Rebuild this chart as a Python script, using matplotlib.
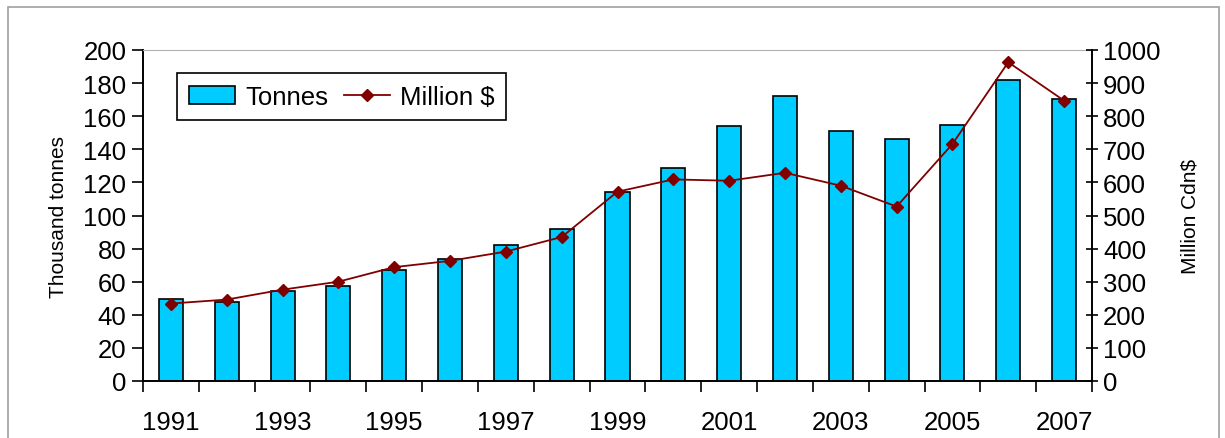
import numpy as np
import matplotlib.pyplot as plt
from matplotlib.patches import Rectangle

years = list(range(1991, 2008))
tonnes = [49.6, 47.6, 54.2, 57.3, 66.9, 73.8, 82.3, 91.9, 114.5, 128.8,
          154.0, 172.4, 151.0, 146.2, 154.8, 182.0, 170.6]
million = [234, 246, 276, 300, 344, 363, 391, 435, 572, 609,
           605, 629, 590, 527, 716, 963, 847]

plt.rcParams['font.family'] = ['Liberation Sans', 'DejaVu Sans']

fig = plt.figure(figsize=(12.25, 4.39), dpi=100)
ax = fig.add_axes([143/1225, 1 - 382/439, 949/1225, 331/439])
x = np.arange(len(years))

bars = ax.bar(x, tonnes, width=0.43, color='#00CCFF', edgecolor='black',
              linewidth=1.2, label='Tonnes', zorder=2)
ax.set_xlim(-0.5, len(years) - 0.5)
ax.set_ylim(0, 200)
ax.set_yticks(range(0, 201, 20))
ax.set_xticks(np.arange(-0.5, len(years), 1.0))
ax.set_xticklabels([])
ax.set_xticks(x[::2], minor=True)
ax.set_xticklabels([str(y) for y in years[::2]], minor=True, fontsize=18.5)
ax.tick_params(axis='x', which='major', length=8, width=1.2, direction='out')
ax.tick_params(axis='x', which='minor', length=0, pad=21)
ax.tick_params(axis='y', length=8, width=1.2, direction='out', labelsize=18.5, pad=4)
ax.set_ylabel('Thousand tonnes', fontsize=15, labelpad=11)
for s in ['left', 'bottom']:
    ax.spines[s].set_linewidth(1.4)
ax.spines['top'].set_color('#b0b0b0')
ax.spines['right'].set_visible(False)

ax2 = ax.twinx()
line, = ax2.plot(x, million, color='#800000', marker='D', markersize=6.5,
                 linewidth=1.3, label='Million $', zorder=3)
ax2.set_ylim(0, 1000)
ax2.set_yticks(range(0, 1001, 100))
ax2.tick_params(axis='y', length=8, width=1.2, direction='inout', labelsize=18.5, pad=4)
ax2.set_ylabel('Million Cdn$', fontsize=15, labelpad=14)
ax2.spines['right'].set_linewidth(1.4)
ax2.spines['top'].set_visible(False)
ax2.spines['left'].set_visible(False)
ax2.spines['bottom'].set_visible(False)

leg = ax2.legend([bars, line], ['Tonnes', 'Million $'], loc='upper left',
                 bbox_to_anchor=(0.036, 0.93), ncol=2, fontsize=18.5, frameon=True,
                 fancybox=False, edgecolor='black', framealpha=1,
                 handlelength=1.8, handletextpad=0.4, columnspacing=0.6,
                 borderpad=0.45, borderaxespad=0)
leg.get_frame().set_linewidth(1.2)

fig.patches.append(Rectangle((8/1225, -0.1), 1211/1225, 1.1 - 8/439,
                             transform=fig.transFigure, fill=False,
                             edgecolor='#a0a0a0', linewidth=1.2))

fig.savefig('out.png', dpi=100)
